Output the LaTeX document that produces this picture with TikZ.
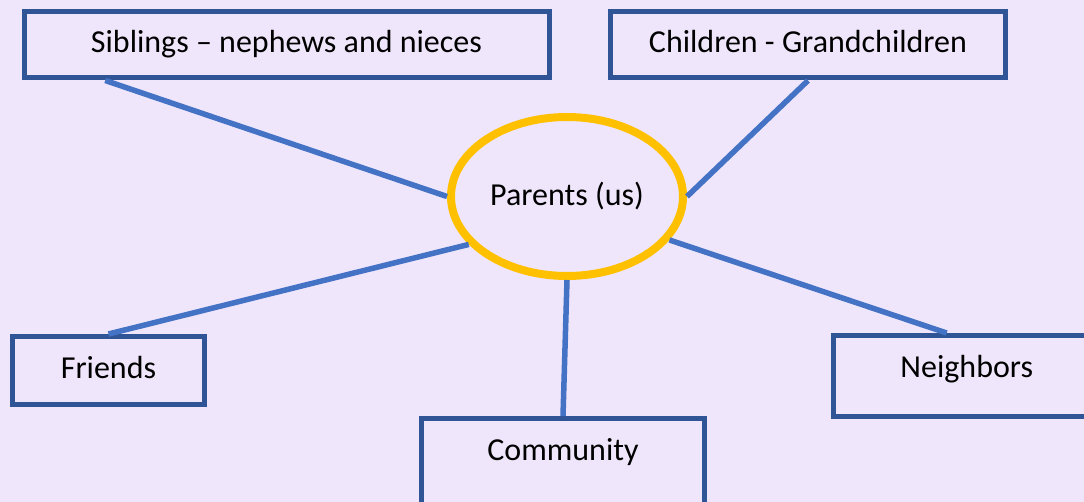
\documentclass[tikz,border=0pt]{standalone}
\usepackage{fontspec}
\setmainfont{Carlito}
\usepackage{xcolor}
\usepackage{tikz}
\usetikzlibrary{shapes.geometric,calc}
\definecolor{bgcol}{HTML}{F0E6FC}
\definecolor{boxblue}{HTML}{2F5597}
\definecolor{linkblue}{HTML}{4472C4}
\definecolor{ringgold}{HTML}{FFC000}
\tikzset{kin box/.style = {rectangle, draw=boxblue, line width=5pt,
  inner sep=0pt, text height=22pt, text depth=7pt},
  kin link/.style = {draw=linkblue, line width=5.5pt}}

\begin{document}
\begin{tikzpicture}[x=1pt,y=-1pt,every node/.style={font=\fontsize{32}{38}\selectfont}]
  \useasboundingbox (0,0) rectangle (1084,502);
  \clip (0,0) rectangle (1084,502);
  \fill[bgcol] (0,0) rectangle (1084,502);
  \node[ellipse, draw=ringgold, line width=8pt, minimum width=232pt, minimum height=159pt] (P) at (567,196.5) {Parents (us)};
  \node[kin box, minimum width=525pt, minimum height=66pt] (S) at (286.5,45) {Siblings – nephews and nieces};
  \node[kin box, minimum width=395pt, minimum height=66pt] (C) at (808,45) {Children - Grandchildren};
  \node[kin box, minimum width=192pt, minimum height=68pt] (F) at (108.5,370.5) {Friends};
  \node[kin box, minimum width=283pt, minimum height=101.5pt, text depth=40.5pt] (M) at (563,469.25) {Community};
  \node[kin box, minimum width=266.5pt, minimum height=81pt, text depth=19pt] (N) at (966.75,376) {Neighbors};
  \draw[kin link] ($(S.south west)!0.158!(S.south east)$) -- (P.180);
  \draw[kin link] (C.south) -- (P.0);
  \draw[kin link] (F.north) -- (P.206);
  \draw[kin link] (M.north) -- (P.south);
  \draw[kin link] ($(N.north west)!0.426!(N.north east)$) -- (P.337);
\end{tikzpicture}
\end{document}
